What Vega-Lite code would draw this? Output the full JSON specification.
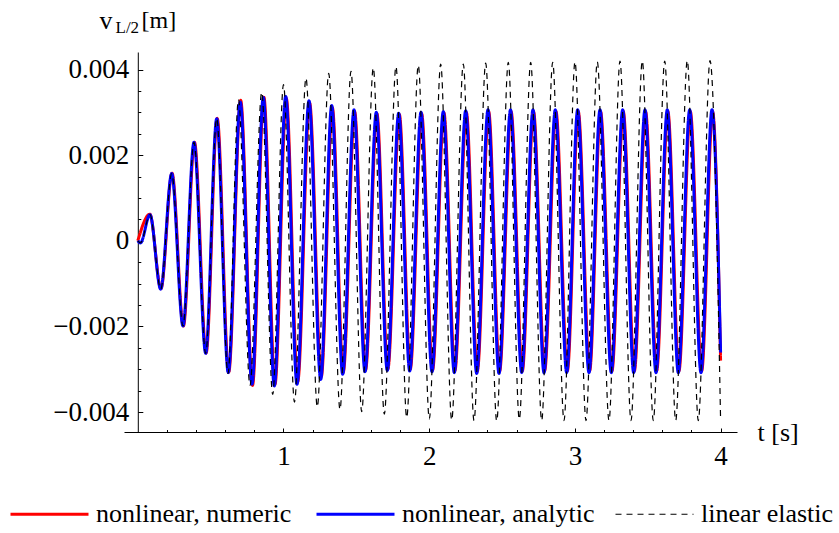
{
  "$schema": "https://vega.github.io/schema/vega-lite/v6.json",
  "width": 613,
  "height": 380,
  "autosize": {"type": "none"},
  "padding": {"left": 124, "top": 52, "right": 102, "bottom": 101},
  "background": "white",
  "config": {
    "view": {"stroke": null},
    "font": "Liberation Serif",
    "axis": {
      "grid": false,
      "domainColor": "#000000",
      "domainWidth": 1,
      "tickColor": "#000000",
      "tickWidth": 1,
      "labelColor": "#000000",
      "titleColor": "#000000",
      "labelFont": "Liberation Serif",
      "titleFont": "Liberation Serif",
      "labelFontSize": 27,
      "titleFontSize": 25,
      "titleFontWeight": "normal"
    },
    "legend": {
      "labelFont": "Liberation Serif",
      "labelFontSize": 26,
      "labelColor": "#000000"
    }
  },
  "data": {
    "values": [
      {"series": "nonlinear, numeric", "t": 0, "v": 0},
      {"series": "nonlinear, numeric", "t": 0.0825, "v": 0.00062},
      {"series": "nonlinear, numeric", "t": 0.159, "v": -0.00112},
      {"series": "nonlinear, numeric", "t": 0.235, "v": 0.00158},
      {"series": "nonlinear, numeric", "t": 0.313, "v": -0.00199},
      {"series": "nonlinear, numeric", "t": 0.389, "v": 0.0023},
      {"series": "nonlinear, numeric", "t": 0.469, "v": -0.00262},
      {"series": "nonlinear, numeric", "t": 0.545, "v": 0.00286},
      {"series": "nonlinear, numeric", "t": 0.624, "v": -0.00307},
      {"series": "nonlinear, numeric", "t": 0.706, "v": 0.00328},
      {"series": "nonlinear, numeric", "t": 0.787, "v": -0.00338},
      {"series": "nonlinear, numeric", "t": 0.865, "v": 0.00336},
      {"series": "nonlinear, numeric", "t": 0.941, "v": -0.00336},
      {"series": "nonlinear, numeric", "t": 1.019, "v": 0.00333},
      {"series": "nonlinear, numeric", "t": 1.097, "v": -0.0033},
      {"series": "nonlinear, numeric", "t": 1.179, "v": 0.00322},
      {"series": "nonlinear, numeric", "t": 1.259, "v": -0.00318},
      {"series": "nonlinear, numeric", "t": 1.335, "v": 0.00311},
      {"series": "nonlinear, numeric", "t": 1.41, "v": -0.00307},
      {"series": "nonlinear, numeric", "t": 1.488, "v": 0.00302},
      {"series": "nonlinear, numeric", "t": 1.563, "v": -0.00302},
      {"series": "nonlinear, numeric", "t": 1.641, "v": 0.00297},
      {"series": "nonlinear, numeric", "t": 1.716, "v": -0.003},
      {"series": "nonlinear, numeric", "t": 1.795, "v": 0.00295},
      {"series": "nonlinear, numeric", "t": 1.87, "v": -0.003},
      {"series": "nonlinear, numeric", "t": 1.948, "v": 0.00297},
      {"series": "nonlinear, numeric", "t": 2.023, "v": -0.00302},
      {"series": "nonlinear, numeric", "t": 2.101, "v": 0.00299},
      {"series": "nonlinear, numeric", "t": 2.176, "v": -0.00304},
      {"series": "nonlinear, numeric", "t": 2.255, "v": 0.003},
      {"series": "nonlinear, numeric", "t": 2.33, "v": -0.00305},
      {"series": "nonlinear, numeric", "t": 2.408, "v": 0.00302},
      {"series": "nonlinear, numeric", "t": 2.483, "v": -0.00305},
      {"series": "nonlinear, numeric", "t": 2.562, "v": 0.00302},
      {"series": "nonlinear, numeric", "t": 2.639, "v": -0.00304},
      {"series": "nonlinear, numeric", "t": 2.716, "v": 0.00302},
      {"series": "nonlinear, numeric", "t": 2.792, "v": -0.00304},
      {"series": "nonlinear, numeric", "t": 2.87, "v": 0.00302},
      {"series": "nonlinear, numeric", "t": 2.948, "v": -0.00304},
      {"series": "nonlinear, numeric", "t": 3.023, "v": 0.00302},
      {"series": "nonlinear, numeric", "t": 3.101, "v": -0.00304},
      {"series": "nonlinear, numeric", "t": 3.176, "v": 0.00302},
      {"series": "nonlinear, numeric", "t": 3.254, "v": -0.00304},
      {"series": "nonlinear, numeric", "t": 3.332, "v": 0.00302},
      {"series": "nonlinear, numeric", "t": 3.408, "v": -0.00304},
      {"series": "nonlinear, numeric", "t": 3.485, "v": 0.00302},
      {"series": "nonlinear, numeric", "t": 3.561, "v": -0.00304},
      {"series": "nonlinear, numeric", "t": 3.638, "v": 0.00302},
      {"series": "nonlinear, numeric", "t": 3.714, "v": -0.00304},
      {"series": "nonlinear, numeric", "t": 3.792, "v": 0.00302},
      {"series": "nonlinear, numeric", "t": 3.87, "v": -0.00304},
      {"series": "nonlinear, numeric", "t": 3.945, "v": 0.00302},
      {"series": "nonlinear, numeric", "t": 4.0, "v": -0.0028},

      {"series": "nonlinear, analytic", "t": 0, "v": 0},
      {"series": "nonlinear, analytic", "t": 0.018, "v": -0.00005},
      {"series": "nonlinear, analytic", "t": 0.0837, "v": 0.00061},
      {"series": "nonlinear, analytic", "t": 0.1572, "v": -0.00113},
      {"series": "nonlinear, analytic", "t": 0.2327, "v": 0.00157},
      {"series": "nonlinear, analytic", "t": 0.3102, "v": -0.00199},
      {"series": "nonlinear, analytic", "t": 0.3857, "v": 0.0023},
      {"series": "nonlinear, analytic", "t": 0.466, "v": -0.00263},
      {"series": "nonlinear, analytic", "t": 0.5415, "v": 0.00285},
      {"series": "nonlinear, analytic", "t": 0.6211, "v": -0.00308},
      {"series": "nonlinear, analytic", "t": 0.7035, "v": 0.00324},
      {"series": "nonlinear, analytic", "t": 0.7838, "v": -0.00335},
      {"series": "nonlinear, analytic", "t": 0.8614, "v": 0.00335},
      {"series": "nonlinear, analytic", "t": 0.9369, "v": -0.00339},
      {"series": "nonlinear, analytic", "t": 1.0151, "v": 0.00337},
      {"series": "nonlinear, analytic", "t": 1.0927, "v": -0.00335},
      {"series": "nonlinear, analytic", "t": 1.175, "v": 0.00327},
      {"series": "nonlinear, analytic", "t": 1.2553, "v": -0.00324},
      {"series": "nonlinear, analytic", "t": 1.3308, "v": 0.00316},
      {"series": "nonlinear, analytic", "t": 1.4063, "v": -0.00312},
      {"series": "nonlinear, analytic", "t": 1.4839, "v": 0.00306},
      {"series": "nonlinear, analytic", "t": 1.5594, "v": -0.00306},
      {"series": "nonlinear, analytic", "t": 1.6369, "v": 0.003},
      {"series": "nonlinear, analytic", "t": 1.7124, "v": -0.00303},
      {"series": "nonlinear, analytic", "t": 1.7907, "v": 0.00298},
      {"series": "nonlinear, analytic", "t": 1.8662, "v": -0.00304},
      {"series": "nonlinear, analytic", "t": 1.9437, "v": 0.003},
      {"series": "nonlinear, analytic", "t": 2.0192, "v": -0.00306},
      {"series": "nonlinear, analytic", "t": 2.0968, "v": 0.00302},
      {"series": "nonlinear, analytic", "t": 2.1723, "v": -0.00308},
      {"series": "nonlinear, analytic", "t": 2.2505, "v": 0.00304},
      {"series": "nonlinear, analytic", "t": 2.326, "v": -0.0031},
      {"series": "nonlinear, analytic", "t": 2.4036, "v": 0.00306},
      {"series": "nonlinear, analytic", "t": 2.4791, "v": -0.0031},
      {"series": "nonlinear, analytic", "t": 2.558, "v": 0.00306},
      {"series": "nonlinear, analytic", "t": 2.6349, "v": -0.00308},
      {"series": "nonlinear, analytic", "t": 2.7124, "v": 0.00306},
      {"series": "nonlinear, analytic", "t": 2.7879, "v": -0.00308},
      {"series": "nonlinear, analytic", "t": 2.8655, "v": 0.00306},
      {"series": "nonlinear, analytic", "t": 2.9437, "v": -0.00308},
      {"series": "nonlinear, analytic", "t": 3.0192, "v": 0.00306},
      {"series": "nonlinear, analytic", "t": 3.0968, "v": -0.00308},
      {"series": "nonlinear, analytic", "t": 3.1723, "v": 0.00306},
      {"series": "nonlinear, analytic", "t": 3.2498, "v": -0.00308},
      {"series": "nonlinear, analytic", "t": 3.3281, "v": 0.00306},
      {"series": "nonlinear, analytic", "t": 3.4036, "v": -0.00308},
      {"series": "nonlinear, analytic", "t": 3.4812, "v": 0.00306},
      {"series": "nonlinear, analytic", "t": 3.5567, "v": -0.00308},
      {"series": "nonlinear, analytic", "t": 3.6342, "v": 0.00306},
      {"series": "nonlinear, analytic", "t": 3.7097, "v": -0.00308},
      {"series": "nonlinear, analytic", "t": 3.7879, "v": 0.00306},
      {"series": "nonlinear, analytic", "t": 3.8655, "v": -0.00308},
      {"series": "nonlinear, analytic", "t": 3.941, "v": 0.00306},
      {"series": "nonlinear, analytic", "t": 4.0, "v": -0.00261},

      {"series": "linear elastic", "t": 0, "v": 0},
      {"series": "linear elastic", "t": 0.018, "v": -0.00005},
      {"series": "linear elastic", "t": 0.0837, "v": 0.00061},
      {"series": "linear elastic", "t": 0.1572, "v": -0.00113},
      {"series": "linear elastic", "t": 0.2327, "v": 0.00157},
      {"series": "linear elastic", "t": 0.3102, "v": -0.00199},
      {"series": "linear elastic", "t": 0.3857, "v": 0.0023},
      {"series": "linear elastic", "t": 0.466, "v": -0.00263},
      {"series": "linear elastic", "t": 0.5415, "v": 0.00286},
      {"series": "linear elastic", "t": 0.619, "v": -0.0031},
      {"series": "linear elastic", "t": 0.6912, "v": 0.0033},
      {"series": "linear elastic", "t": 0.7701, "v": -0.00338},
      {"series": "linear elastic", "t": 0.8504, "v": 0.00347},
      {"series": "linear elastic", "t": 0.9259, "v": -0.00359},
      {"series": "linear elastic", "t": 1.0, "v": 0.00365},
      {"series": "linear elastic", "t": 1.0755, "v": -0.00377},
      {"series": "linear elastic", "t": 1.1544, "v": 0.0038},
      {"series": "linear elastic", "t": 1.232, "v": -0.00388},
      {"series": "linear elastic", "t": 1.3102, "v": 0.00391},
      {"series": "linear elastic", "t": 1.3878, "v": -0.00394},
      {"series": "linear elastic", "t": 1.4633, "v": 0.00396},
      {"series": "linear elastic", "t": 1.5367, "v": -0.00399},
      {"series": "linear elastic", "t": 1.6163, "v": 0.00404},
      {"series": "linear elastic", "t": 1.6919, "v": -0.00405},
      {"series": "linear elastic", "t": 1.7721, "v": 0.00407},
      {"series": "linear elastic", "t": 1.8456, "v": -0.00413},
      {"series": "linear elastic", "t": 1.9252, "v": 0.0041},
      {"series": "linear elastic", "t": 2.0007, "v": -0.00416},
      {"series": "linear elastic", "t": 2.0789, "v": 0.00413},
      {"series": "linear elastic", "t": 2.1544, "v": -0.00419},
      {"series": "linear elastic", "t": 2.2341, "v": 0.00413},
      {"series": "linear elastic", "t": 2.3075, "v": -0.0042},
      {"series": "linear elastic", "t": 2.3878, "v": 0.00415},
      {"series": "linear elastic", "t": 2.4633, "v": -0.00421},
      {"series": "linear elastic", "t": 2.5429, "v": 0.00417},
      {"series": "linear elastic", "t": 2.6184, "v": -0.00417},
      {"series": "linear elastic", "t": 2.6966, "v": 0.00417},
      {"series": "linear elastic", "t": 2.7721, "v": -0.0042},
      {"series": "linear elastic", "t": 2.8476, "v": 0.00417},
      {"series": "linear elastic", "t": 2.9252, "v": -0.0042},
      {"series": "linear elastic", "t": 3.0007, "v": 0.00418},
      {"series": "linear elastic", "t": 3.0762, "v": -0.0042},
      {"series": "linear elastic", "t": 3.1538, "v": 0.00418},
      {"series": "linear elastic", "t": 3.2341, "v": -0.0042},
      {"series": "linear elastic", "t": 3.3095, "v": 0.0042},
      {"series": "linear elastic", "t": 3.385, "v": -0.0042},
      {"series": "linear elastic", "t": 3.4626, "v": 0.0042},
      {"series": "linear elastic", "t": 3.5381, "v": -0.0042},
      {"series": "linear elastic", "t": 3.6164, "v": 0.0042},
      {"series": "linear elastic", "t": 3.6919, "v": -0.0042},
      {"series": "linear elastic", "t": 3.7714, "v": 0.00421},
      {"series": "linear elastic", "t": 3.847, "v": -0.0042},
      {"series": "linear elastic", "t": 3.9273, "v": 0.00421},
      {"series": "linear elastic", "t": 4.0, "v": -0.00419}
    ]
  },
  "layer": [
    {
      "transform": [{"filter": "datum.series === 'nonlinear, numeric'"}],
      "mark": {"type": "line", "interpolate": "monotone", "strokeWidth": 3, "clip": false},
      "encoding": {
        "x": {
          "field": "t", "type": "quantitative",
          "scale": {"domain": [-0.0947, 4.1126], "nice": false, "zero": false},
          "axis": {
            "values": [1, 2, 3, 4],
            "format": "d",
            "tickSize": -4,
            "labelPadding": 15,
            "labelFlush": false,
            "labelFont": "Liberation Serif",
            "labelFontSize": 27,
            "title": "t [s]",
            "titleFont": "Liberation Serif",
            "titleX": 633,
            "titleY": 8,
            "titleAlign": "left",
            "titleBaseline": "alphabetic",
            "titleFontSize": 26
          }
        },
        "y": {
          "field": "v", "type": "quantitative",
          "scale": {"domain": [-0.004467, 0.00441], "nice": false, "zero": false},
          "axis": {
            "values": [-0.004, -0.002, 0, 0.002, 0.004],
            "labelExpr": "datum.value == 0 ? '0' : replace(format(datum.value, '.3f'), '-', '\u2212')",
            "tickSize": -5,
            "offset": -13.8,
            "labelPadding": 14,
            "labelFlush": false,
            "labelFont": "Liberation Serif",
            "labelFontSize": 27,
            "title": "v",
            "titleFont": "Liberation Serif",
            "titleAngle": 0,
            "titleX": -38.8,
            "titleY": -24,
            "titleAlign": "left",
            "titleBaseline": "alphabetic",
            "titleFontSize": 26
          }
        },
        "color": {
          "field": "series", "type": "nominal",
          "scale": {"domain": ["nonlinear, numeric", "nonlinear, analytic", "linear elastic"], "range": ["#ff0000", "#0000ff", "#000000"]},
          "legend": {
            "orient": "none",
            "legendX": -115,
            "legendY": 421.5,
            "direction": "horizontal",
            "title": null,
            "symbolType": "stroke",
            "symbolSize": 6084,
            "symbolStrokeWidth": 3,
            "labelOffset": 6,
            "columnPadding": 18,
            "labelLimit": 400,
            "labelFont": "Liberation Serif",
            "labelFontSize": 26,
            "encode": {"symbols": {"update": {
              "strokeWidth": {"signal": "(datum.label === 'linear elastic' ? 1.2 : 3)"},
              "stroke": {"signal": "(datum.label === 'linear elastic' ? '#777777' : (datum.label === 'nonlinear, numeric' ? '#ff0000' : '#0000ff'))"}
            }}}
          }
        },
        "strokeDash": {
          "field": "series", "type": "nominal",
          "scale": {"domain": ["nonlinear, numeric", "nonlinear, analytic", "linear elastic"], "range": [[1, 0], [1, 0], [6, 5]]},
          "legend": {
            "orient": "none",
            "legendX": -115,
            "legendY": 421.5,
            "direction": "horizontal",
            "title": null,
            "symbolType": "stroke",
            "symbolSize": 6084,
            "symbolStrokeWidth": 3,
            "labelOffset": 6,
            "columnPadding": 18,
            "labelLimit": 400,
            "labelFont": "Liberation Serif",
            "labelFontSize": 26,
            "encode": {"symbols": {"update": {
              "strokeWidth": {"signal": "(datum.label === 'linear elastic' ? 1.2 : 3)"},
              "stroke": {"signal": "(datum.label === 'linear elastic' ? '#777777' : (datum.label === 'nonlinear, numeric' ? '#ff0000' : '#0000ff'))"}
            }}}
          }
        }
      }
    },
    {
      "transform": [{"filter": "datum.series === 'nonlinear, analytic'"}],
      "mark": {"type": "line", "interpolate": "monotone", "strokeWidth": 3, "clip": false},
      "encoding": {
        "x": {"field": "t", "type": "quantitative", "scale": {"domain": [-0.0947, 4.1126], "nice": false, "zero": false}, "axis": null},
        "y": {"field": "v", "type": "quantitative", "scale": {"domain": [-0.004467, 0.00441], "nice": false, "zero": false}, "axis": null},
        "color": {"field": "series", "type": "nominal"},
        "strokeDash": {"field": "series", "type": "nominal"}
      }
    },
    {
      "transform": [{"filter": "datum.series === 'linear elastic'"}],
      "mark": {"type": "line", "interpolate": "monotone", "strokeWidth": 1.2, "clip": false},
      "encoding": {
        "x": {"field": "t", "type": "quantitative", "scale": {"domain": [-0.0947, 4.1126], "nice": false, "zero": false}, "axis": null},
        "y": {"field": "v", "type": "quantitative", "scale": {"domain": [-0.004467, 0.00441], "nice": false, "zero": false}, "axis": null},
        "color": {"field": "series", "type": "nominal"},
        "strokeDash": {"field": "series", "type": "nominal"}
      }
    },
    {
      "transform": [{"filter": "datum.series === 'nonlinear, analytic'"}],
      "mark": {"type": "point", "opacity": 0},
      "encoding": {
        "x": {
          "field": "t", "type": "quantitative",
          "scale": {"domain": [-0.0947, 4.1126], "nice": false, "zero": false},
          "axis": {
            "orient": "bottom",
            "values": [0.2, 0.4, 0.6, 0.8, 1.2, 1.4, 1.6, 1.8, 2.2, 2.4, 2.6, 2.8, 3.2, 3.4, 3.6, 3.8],
            "labels": false,
            "domain": false,
            "tickSize": -2.5,
            "title": "[m]",
            "titleFont": "Liberation Serif",
            "titleX": 17,
            "titleY": -404.5,
            "titleAlign": "left",
            "titleBaseline": "alphabetic",
            "titleFontSize": 24
          }
        },
        "y": {
          "field": "v", "type": "quantitative",
          "scale": {"domain": [-0.004467, 0.00441], "nice": false, "zero": false},
          "axis": {
            "orient": "left",
            "values": [-0.0035, -0.003, -0.0025, -0.0015, -0.001, -0.0005, 0.0005, 0.001, 0.0015, 0.0025, 0.003, 0.0035],
            "labels": false,
            "domain": false,
            "tickSize": -3,
            "offset": -13.8,
            "title": "L/2",
            "titleFont": "Liberation Serif",
            "titleAngle": 0,
            "titleX": -22.8,
            "titleY": -19.5,
            "titleAlign": "left",
            "titleBaseline": "alphabetic",
            "titleFontSize": 17
          }
        }
      }
    }
  ],
  "resolve": {"axis": {"x": "independent", "y": "independent"}}
}
